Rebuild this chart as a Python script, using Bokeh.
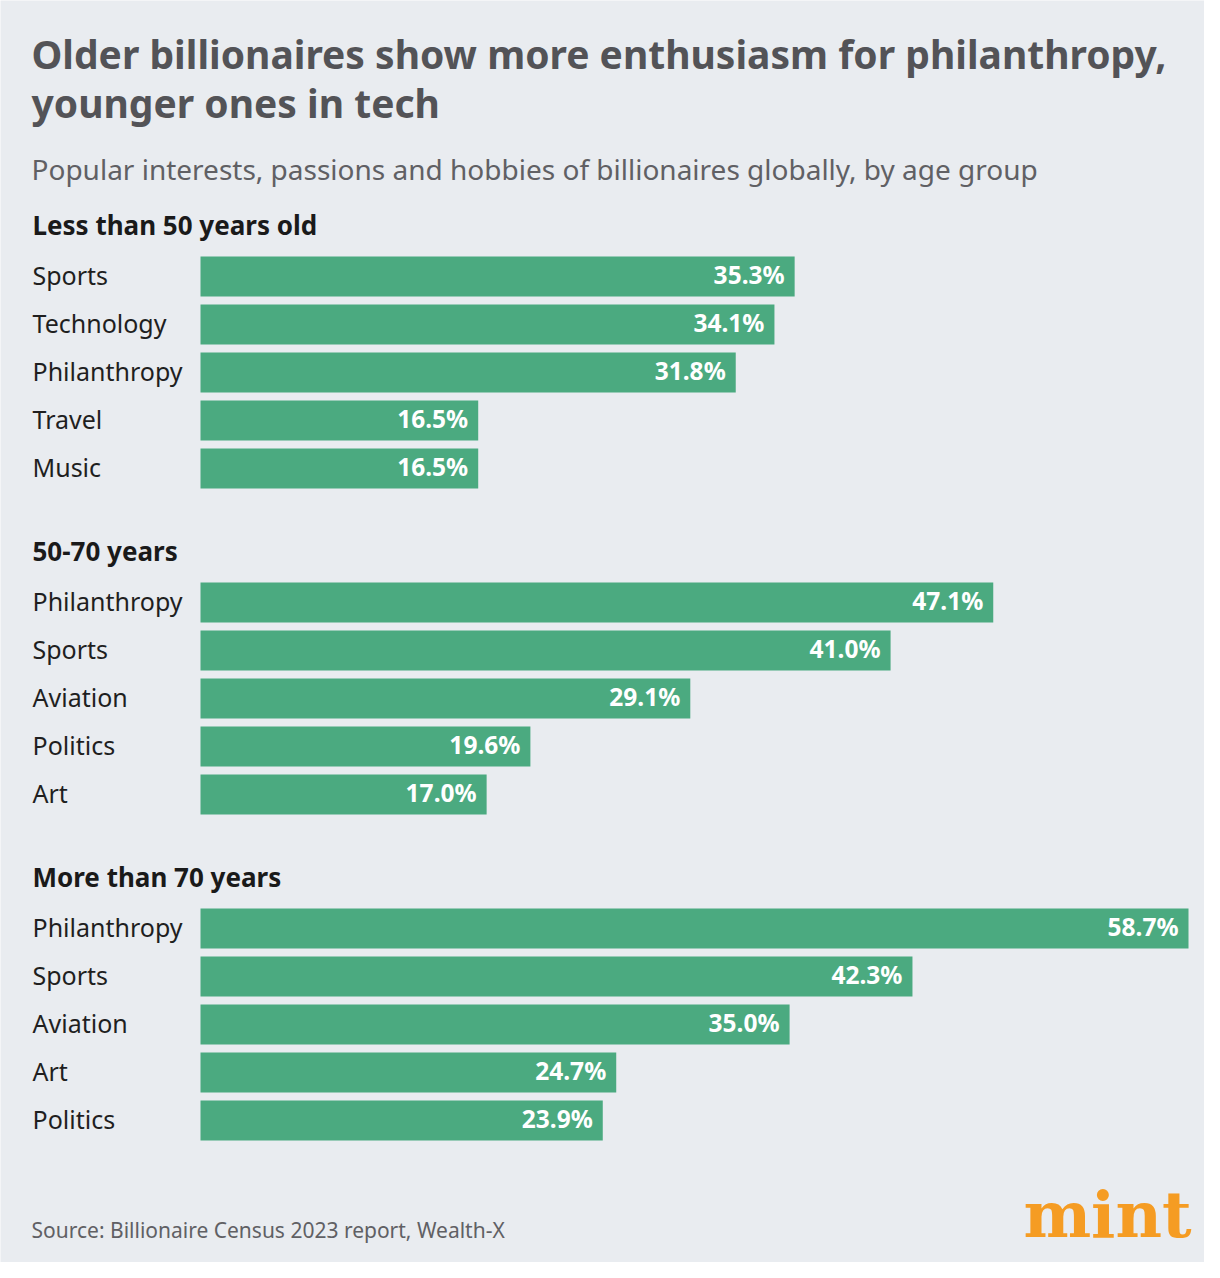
from bokeh.plotting import figure
from bokeh.models import Range1d, ColumnDataSource
from bokeh.core.properties import value
from bokeh.embed import file_html
from bokeh.resources import INLINE

title_lines = ["Older billionaires show more enthusiasm for philanthropy,", "younger ones in tech"]
subtitle = "Popular interests, passions and hobbies of billionaires globally, by age group"
source_note = "Source: Billionaire Census 2023 report, Wealth-X"

group_names = ["Less than 50 years old", "50-70 years", "More than 70 years"]
g1_labels = ["Sports", "Technology", "Philanthropy", "Travel", "Music"]
g1_values = [35.3, 34.1, 31.8, 16.5, 16.5]
g2_labels = ["Philanthropy", "Sports", "Aviation", "Politics", "Art"]
g2_values = [47.1, 41.0, 29.1, 19.6, 17.0]
g3_labels = ["Philanthropy", "Sports", "Aviation", "Art", "Politics"]
g3_values = [58.7, 42.3, 35.0, 24.7, 23.9]

BG = "#E9ECF0"
GREEN = "#4BAA80"
FONT = "Noto Sans"

W, H = 1204, 1262
BAR_X0 = 200     # x where bars start
BAR_MAX_X = 1188 # x of longest bar end
k = (BAR_MAX_X - BAR_X0) / max(g3_values)  # px per percent
DY = -2          # text vertical nudge

def px(xpix):
    return (xpix - BAR_X0) / k

p = figure(width=W, height=H, output_backend="svg", toolbar_location=None,
           x_range=Range1d(px(0), px(W)),
           y_range=Range1d(H, 0),
           min_border=0, outline_line_color=None,
           background_fill_color=BG, border_fill_color=BG)
p.axis.visible = False
p.grid.visible = False

# titles
p.text(x=[px(31)] * 2, y=[55 + DY, 104 + DY], text=title_lines, text_font=value(FONT),
       text_font_style="bold", text_font_size="39px", text_color="#535357",
       text_baseline="middle", text_align="left")
p.text(x=[px(31)], y=[170 + DY], text=[subtitle], text_font=value(FONT),
       text_font_size="28px", text_color="#606064",
       text_baseline="middle", text_align="left")

groups = [(g1_labels, g1_values), (g2_labels, g2_values), (g3_labels, g3_values)]
header_y = [226, 552, 878]
for gi, (labels, vals) in enumerate(groups):
    hy = header_y[gi]
    p.text(x=[px(32)], y=[hy + DY], text=[group_names[gi]], text_font=value(FONT),
           text_font_style="bold", text_font_size="26px", text_color="#1a1a1a",
           text_baseline="middle", text_align="left")
    ys = [hy + 50 + 48 * i for i in range(len(vals))]
    src = ColumnDataSource(dict(y=ys, yt=[y + DY for y in ys], v=vals, lab=labels,
                                txt=[f"{v:.1f}%" for v in vals],
                                xl=[px(32)] * len(vals),
                                xt=[v - 10 / k for v in vals]))
    p.hbar(y="y", left=0, right="v", height=40, source=src,
           fill_color=GREEN, line_color=None)
    p.text(x="xl", y="yt", text="lab", source=src, text_font=value(FONT),
           text_font_size="25px", text_color="#1f1f1f",
           text_baseline="middle", text_align="left")
    p.text(x="xt", y="yt", text="txt", source=src, text_font=value(FONT),
           text_font_style="bold", text_font_size="24.5px", text_color="white",
           text_baseline="middle", text_align="right")

p.text(x=[px(31)], y=[1231 + DY], text=[source_note], text_font=value(FONT),
       text_font_size="21px", text_color="#606064",
       text_baseline="middle", text_align="left")

p.text(x=[px(1191)], y=[1214], text=["mint"], text_font=value("DejaVu Serif"),
       text_font_style="bold", text_font_size="64px", text_color="#F59C23",
       text_baseline="middle", text_align="right")

open("out.html", "w").write(file_html(p, INLINE))
